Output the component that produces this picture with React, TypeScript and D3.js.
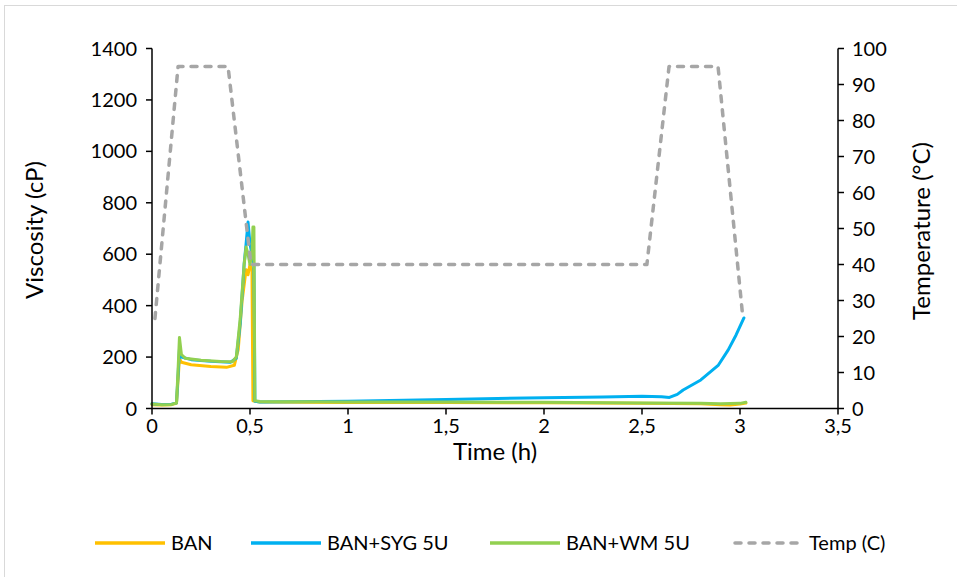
import React from "react";
import * as d3 from "d3";

// ---- data ----
const banTime = [0, 0.05, 0.1, 0.125, 0.133, 0.14, 0.15, 0.2, 0.3, 0.38, 0.42, 0.44, 0.46, 0.48, 0.49, 0.5, 0.51, 0.515, 0.55, 1.0, 1.5, 2.0, 2.5, 2.8, 2.9, 2.95, 3.0, 3.03];
const banVisc = [15, 14, 15, 20, 110, 195, 180, 170, 163, 160, 168, 230, 420, 540, 520, 560, 540, 30, 25, 23, 23, 22, 20, 18, 15, 14, 17, 21];

const sygTime = [0, 0.05, 0.1, 0.125, 0.133, 0.14, 0.15, 0.2, 0.3, 0.4, 0.43, 0.45, 0.47, 0.48, 0.49, 0.5, 0.51, 0.52, 0.525, 0.55, 1.0, 1.5, 2.0, 2.3, 2.5, 2.6, 2.64, 2.68, 2.71, 2.8, 2.89, 2.94, 2.98, 3.02];
const sygVisc = [18, 16, 17, 22, 130, 230, 200, 190, 184, 180, 195, 330, 560, 640, 725, 640, 600, 560, 28, 25, 28, 35, 42, 45, 48, 46, 43, 55, 72, 111, 169, 228, 286, 352];

const wmTime = [0, 0.05, 0.1, 0.125, 0.133, 0.14, 0.15, 0.17, 0.25, 0.35, 0.41, 0.43, 0.45, 0.47, 0.48, 0.49, 0.5, 0.51, 0.515, 0.52, 0.525, 0.55, 1.0, 1.5, 2.0, 2.5, 2.8, 2.9, 3.0, 3.03];
const wmVisc = [18, 15, 16, 22, 150, 276, 210, 195, 188, 183, 182, 200, 350, 560, 628, 600, 560, 600, 706, 706, 30, 27, 25, 25, 24, 21, 20, 18, 20, 24];

const tempTime = [0.015, 0.133, 0.388, 0.505, 2.525, 2.638, 2.888, 3.015];
const tempVal = [25, 95, 95, 40, 40, 95, 95, 25];

const xTicks = [0, 0.5, 1, 1.5, 2, 2.5, 3, 3.5];
const yLeftTicks = [0, 200, 400, 600, 800, 1000, 1200, 1400];
const yRightTicks = [0, 10, 20, 30, 40, 50, 60, 70, 80, 90, 100];

const seriesNames = ["BAN", "BAN+SYG 5U", "BAN+WM 5U", "Temp (C)"];
const seriesColors = ["#FFC000", "#00B0F0", "#92D050", "#A6A6A6"];

const W = 957;
const H = 577;
const FONT = "Lato, 'Open Sans', sans-serif";

export default function App() {
  const x = d3.scaleLinear().domain([0, 3.5]).range([152, 838]);
  const yL = d3.scaleLinear().domain([0, 1400]).range([408.5, 48.5]);
  const yR = d3.scaleLinear().domain([0, 100]).range([408.5, 48.5]);

  const mk = (ts: number[], vs: number[], ys: d3.ScaleLinear<number, number>) =>
    d3
      .line<number>()
      .x((_, i) => x(ts[i]))
      .y((v) => ys(v))(vs) as string;

  const paths = [
    mk(banTime, banVisc, yL),
    mk(sygTime, sygVisc, yL),
    mk(wmTime, wmVisc, yL),
  ];
  const tempPath = mk(tempTime, tempVal, yR);

  const fmt = (v: number) => String(v).replace(".", ",");

  const legendItems = [
    { lx: 95, tx: 171 },
    { lx: 251, tx: 327 },
    { lx: 490, tx: 566 },
    { lx: 733, tx: 809 },
  ];
  const legendY = 543;

  return (
    <svg
      width={W}
      height={H}
      style={{ position: "absolute", left: 0, top: 0, background: "#fff" }}
      fontFamily={FONT}
    >
      <rect x={4.5} y={5.5} width={W + 10} height={H + 10} fill="#fff" stroke="#D9D9D9" strokeWidth={1} />

      {/* series */}
      {paths.map((p, i) => (
        <path key={i} d={p} fill="none" stroke={seriesColors[i]} strokeWidth={3} strokeLinejoin="round" strokeLinecap="round" />
      ))}
      <path d={tempPath} fill="none" stroke={seriesColors[3]} strokeWidth={3.5} strokeDasharray="6 8" strokeLinecap="round" strokeLinejoin="round" />

      {/* axes */}
      <line x1={x(0)} x2={x(3.5)} y1={yL(0)} y2={yL(0)} stroke="#000" strokeWidth={1.5} />
      <line x1={x(0)} x2={x(0)} y1={yL(0)} y2={yL(1400)} stroke="#000" strokeWidth={1.5} />
      <line x1={x(3.5)} x2={x(3.5)} y1={yR(0)} y2={yR(100)} stroke="#000" strokeWidth={1.5} />

      {xTicks.map((t) => (
        <g key={"x" + t}>
          <line x1={x(t)} x2={x(t)} y1={yL(0)} y2={yL(0) + 6} stroke="#000" strokeWidth={1.5} />
          <text x={x(t)} y={yL(0) + 24} textAnchor="middle" fontSize={20} fill="#000">
            {fmt(t)}
          </text>
        </g>
      ))}
      {yLeftTicks.map((v) => (
        <g key={"yl" + v}>
          <line x1={x(0) - 6} x2={x(0)} y1={yL(v)} y2={yL(v)} stroke="#000" strokeWidth={1.5} />
          <text x={137} y={yL(v)} dy="0.35em" textAnchor="end" fontSize={20} fill="#000">
            {v}
          </text>
        </g>
      ))}
      {yRightTicks.map((v) => (
        <g key={"yr" + v}>
          <line x1={x(3.5)} x2={x(3.5) + 6} y1={yR(v)} y2={yR(v)} stroke="#000" strokeWidth={1.5} />
          <text x={852} y={yR(v)} dy="0.35em" textAnchor="start" fontSize={20} fill="#000">
            {v}
          </text>
        </g>
      ))}

      {/* axis titles */}
      <text x={495} y={460} textAnchor="middle" fontSize={24} fill="#000">
        Time (h)
      </text>
      <text transform="translate(35,230) rotate(-90)" textAnchor="middle" dy="0.35em" fontSize={24} fill="#000">
        Viscosity (cP)
      </text>
      <text transform="translate(922,231) rotate(-90)" textAnchor="middle" dy="0.35em" fontSize={24} fill="#000">
        Temperature (°C)
      </text>

      {/* legend */}
      {legendItems.map((it, i) => (
        <g key={"lg" + i}>
          {i < 3 ? (
            <line x1={it.lx} x2={it.lx + 70} y1={legendY} y2={legendY} stroke={seriesColors[i]} strokeWidth={3.5} />
          ) : (
            <line x1={it.lx + 2} x2={it.lx + 68} y1={legendY} y2={legendY} stroke={seriesColors[i]} strokeWidth={3.5} strokeDasharray="6 8" strokeLinecap="round" />
          )}
          <text x={it.tx} y={legendY} dy="0.35em" fontSize={20} fill="#000">
            {seriesNames[i]}
          </text>
        </g>
      ))}
    </svg>
  );
}
